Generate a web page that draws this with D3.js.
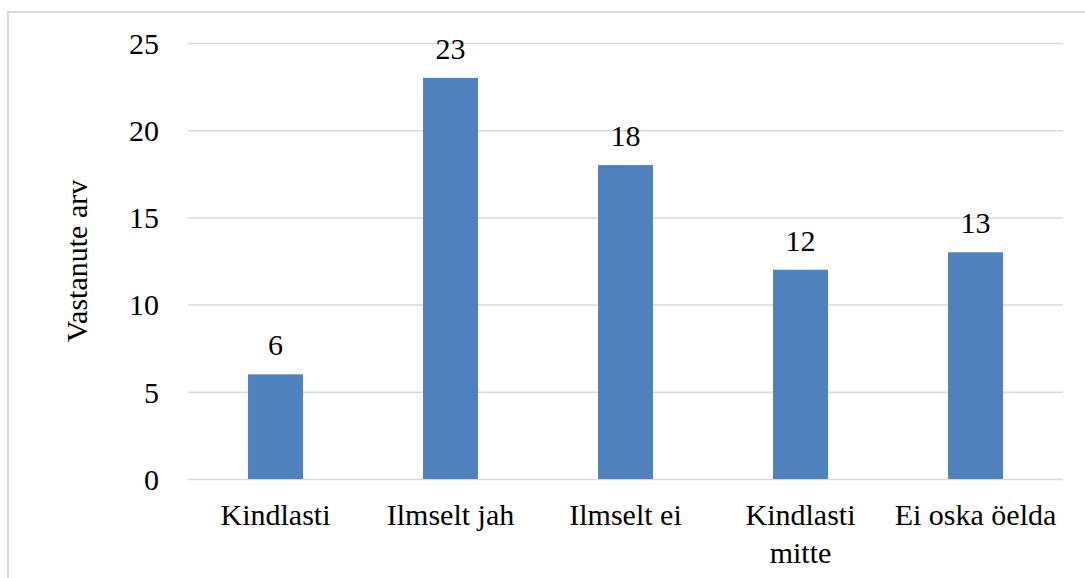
<!DOCTYPE html>
<html>
<head>
<meta charset="utf-8">
<script src="https://cdn.jsdelivr.net/npm/d3@7"></script>
<style>
  body { margin: 0; background: #fff; }
  #chart text { font-family: "Liberation Serif", "DejaVu Serif", "Noto Serif", serif; fill: #000; }
</style>
</head>
<body>
<svg id="chart" width="1085" height="578"></svg>
<script>
// categories and values (number of respondents)
var categories = ["Kindlasti", "Ilmselt jah", "Ilmselt ei", "Kindlasti mitte", "Ei oska öelda"];
var counts = [6, 23, 18, 12, 13];
var yTicks = [0, 5, 10, 15, 20, 25];
var yTitle = "Vastanute arv";

var svg = d3.select("#chart"),
    plotLeft = 188, plotRight = 1063, plotTop = 43, plotBottom = 479;

// chart frame
svg.append("rect")
    .attr("x", 8).attr("y", 12)
    .attr("width", 1090).attr("height", 580)
    .attr("fill", "none")
    .attr("stroke", "#d9d9d9")
    .attr("stroke-width", 2);

var xScale = d3.scaleBand().domain(categories).range([plotLeft, plotRight]).paddingInner(0.686).paddingOuter(0.343),
    yScale = d3.scaleLinear().domain([0, 25]).range([plotBottom, plotTop]);

// y axis with gridlines
var yAxis = svg.append("g")
    .attr("transform", "translate(" + plotLeft + ",0)")
    .call(d3.axisLeft(yScale).tickValues(yTicks).tickSize(-(plotRight - plotLeft)).tickPadding(29));
yAxis.attr("font-family", null).attr("font-size", "30px");
yAxis.select(".domain").remove();
yAxis.selectAll(".tick line").attr("stroke", "#d9d9d9").attr("stroke-width", 1.5);
yAxis.selectAll(".tick text").attr("fill", "#000").attr("dy", "0.34em");

svg.append("text")
    .attr("transform", "translate(87," + ((plotTop + plotBottom) / 2) + ") rotate(-90)")
    .attr("text-anchor", "middle")
    .attr("font-size", "30px")
    .text(yTitle);

var data = categories.map(function (c, i) { return { key: c, count: counts[i] }; });

svg.selectAll(".bar")
    .data(data)
    .enter().append("rect")
    .attr("class", "bar")
    .attr("x", function (d) { return xScale(d.key); })
    .attr("y", function (d) { return yScale(d.count); })
    .attr("width", xScale.bandwidth())
    .attr("height", function (d) { return yScale(0) - yScale(d.count); })
    .attr("fill", "#4f81bd");

// value labels
svg.selectAll(".val")
    .data(data)
    .enter().append("text")
    .attr("class", "val")
    .attr("x", function (d) { return xScale(d.key) + xScale.bandwidth() / 2; })
    .attr("y", function (d) { return yScale(d.count) - 19; })
    .attr("text-anchor", "middle")
    .attr("font-size", "30px")
    .text(function (d) { return d.count; });

// category labels, wrapped like the original
var wrap = { "Kindlasti mitte": ["Kindlasti", "mitte"] };
svg.selectAll(".cat")
    .data(categories)
    .enter().append("text")
    .attr("class", "cat")
    .attr("text-anchor", "middle")
    .attr("font-size", "30px")
    .each(function (c) {
        var lines = wrap[c] || [c];
        var t = d3.select(this);
        lines.forEach(function (line, i) {
            t.append("tspan")
                .attr("x", xScale(c) + xScale.bandwidth() / 2)
                .attr("y", 525 + i * 38)
                .text(line);
        });
    });
</script>
</body>
</html>
